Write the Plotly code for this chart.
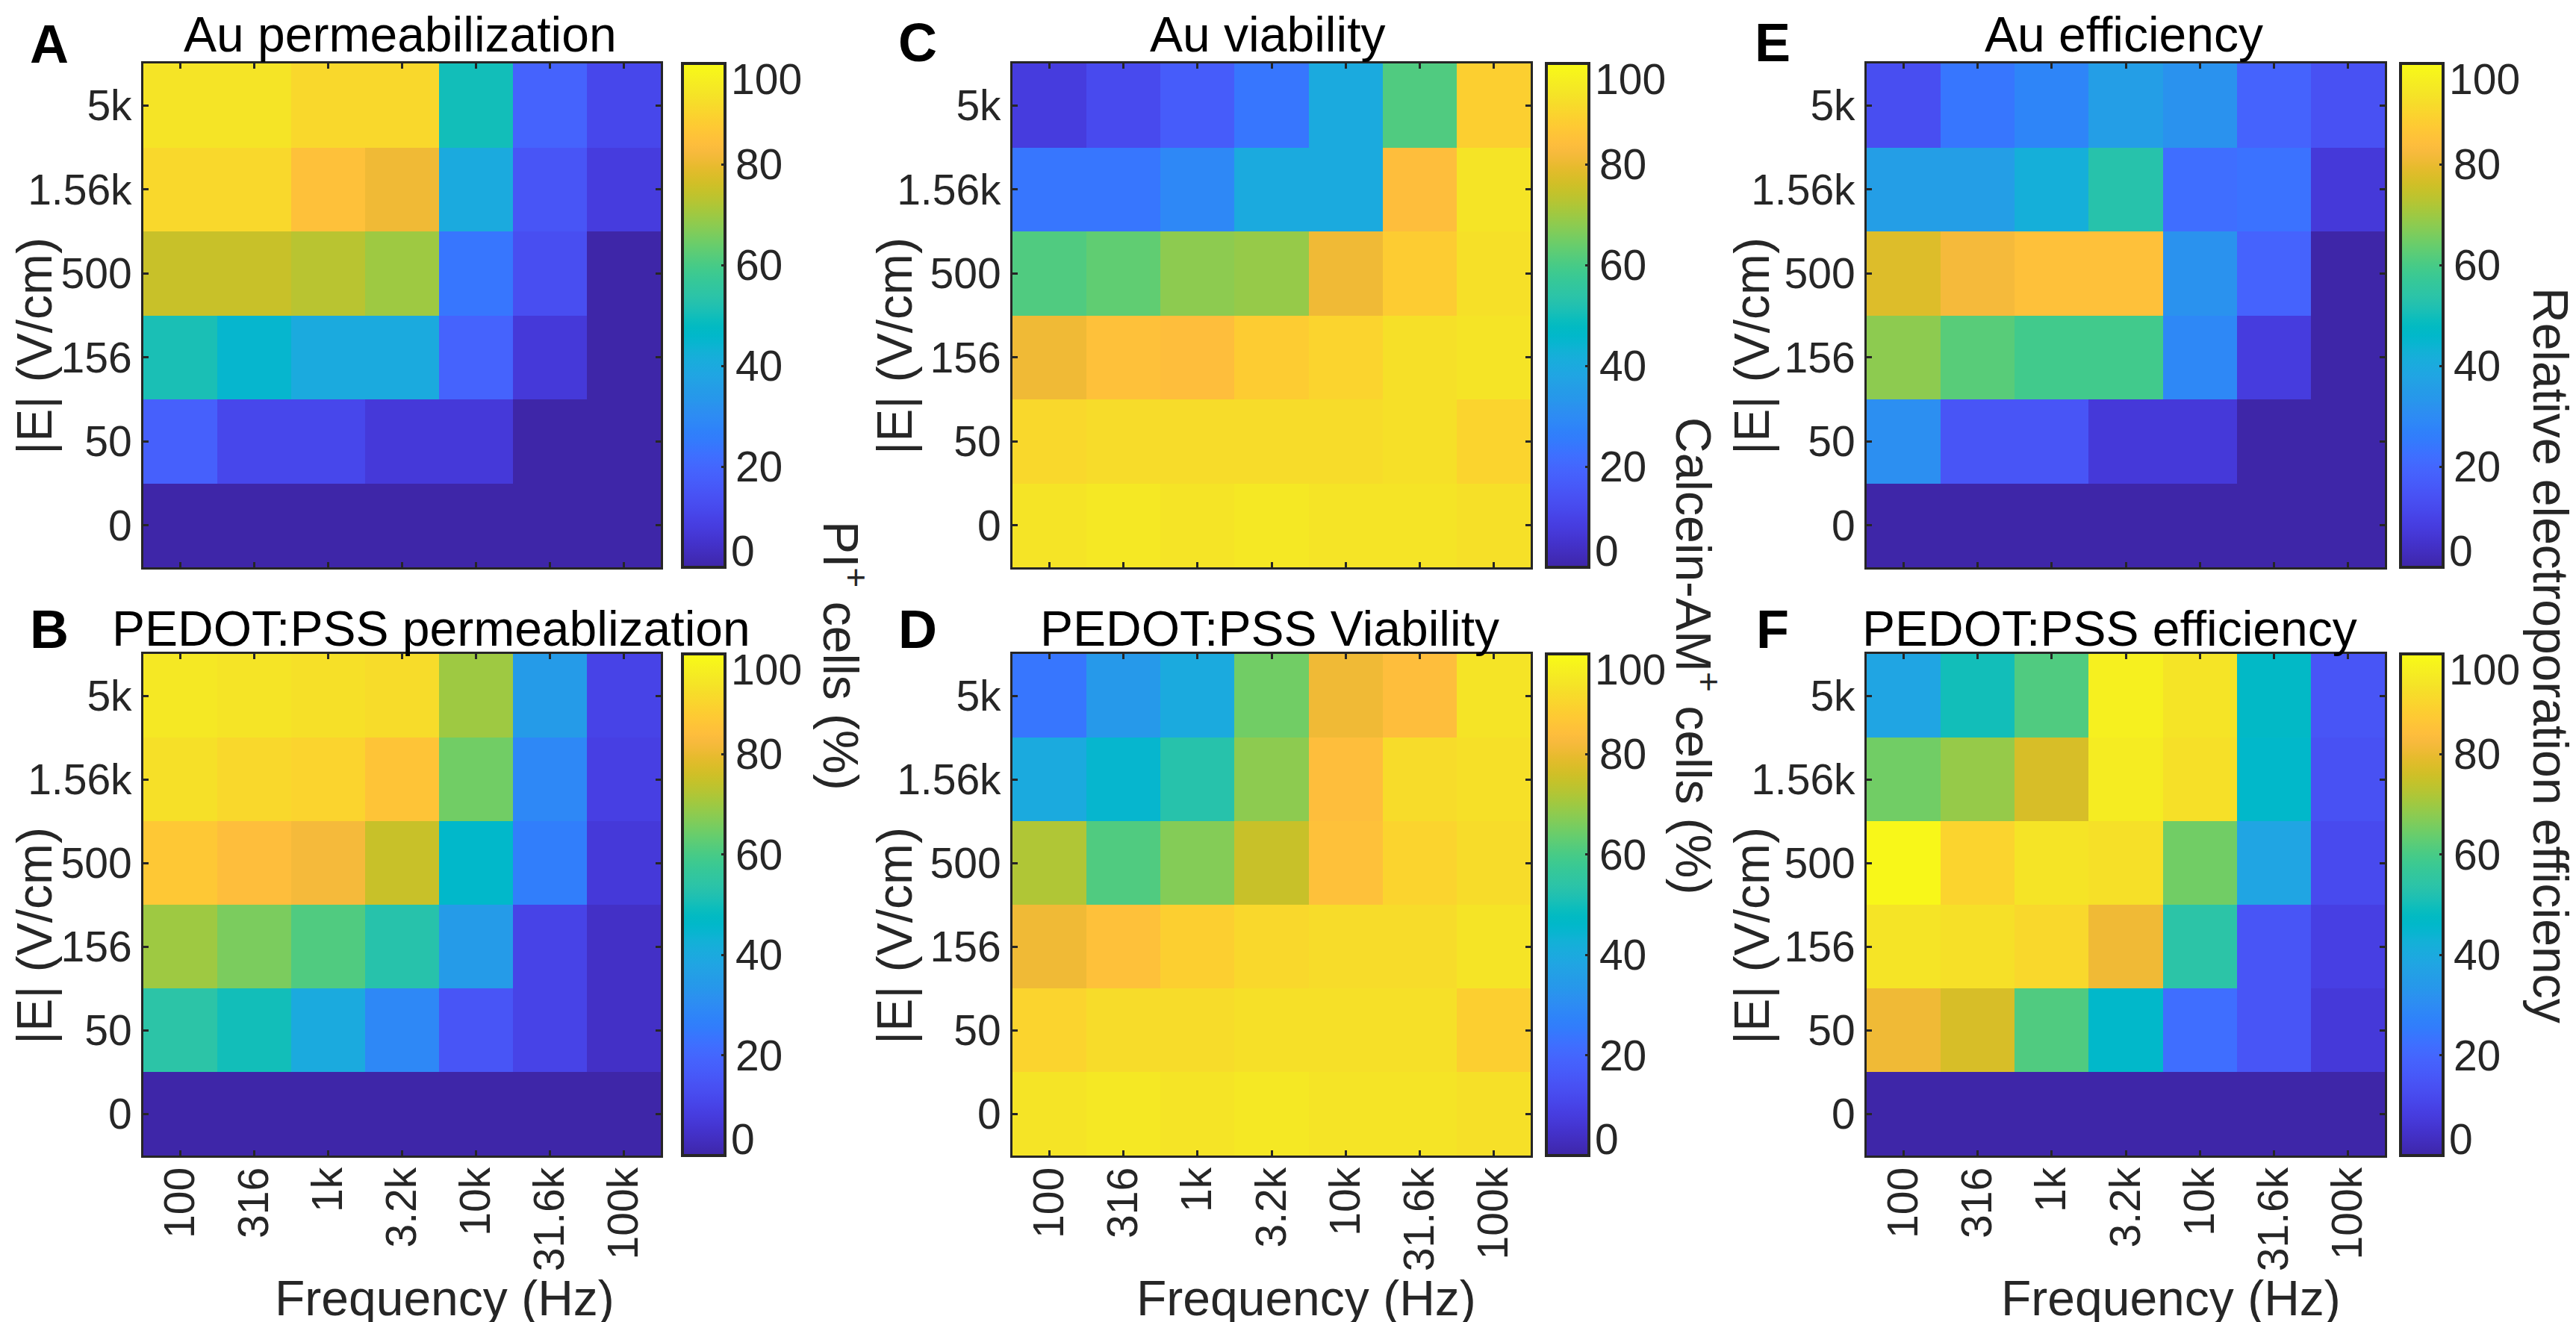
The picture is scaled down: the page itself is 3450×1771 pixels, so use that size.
import plotly.graph_objects as go

W, H = 3450, 1771

# ---------------- data ----------------
freq_labels = ["100", "316", "1k", "3.2k", "10k", "31.6k", "100k"]
field_labels = ["5k", "1.56k", "500", "156", "50", "0"]  # top -> bottom
cbar_ticks = [0, 20, 40, 60, 80, 100]

au_perm = [
    [94, 94, 91, 91, 50, 19, 11],
    [91, 91, 85, 81, 40, 15, 8],
    [75, 75, 73, 70, 24, 13, 0],
    [51, 45, 40, 40, 19, 7, 0],
    [18, 11, 11, 7, 7, 0, 0],
    [0, 0, 0, 0, 0, 0, 0],
]
pedot_perm = [
    [95, 94, 93, 92, 70, 35, 10],
    [93, 91, 90, 86, 65, 29, 9],
    [87, 84, 82, 75, 46, 26, 7],
    [70, 66, 61, 53, 35, 10, 4],
    [54, 50, 40, 29, 15, 10, 4],
    [0, 0, 0, 0, 0, 0, 0],
]
au_via = [
    [8, 12, 17, 24, 40, 61, 89],
    [24, 24, 29, 40, 40, 84, 94],
    [61, 63, 68, 69, 81, 88, 93],
    [81, 85, 84, 88, 90, 93, 94],
    [91, 92, 92, 92, 92, 93, 90],
    [94, 95, 94, 95, 94, 94, 93],
]
pedot_via = [
    [24, 34, 40, 65, 81, 84, 94],
    [40, 45, 53, 68, 84, 92, 93],
    [72, 61, 67, 75, 85, 90, 92],
    [81, 85, 89, 91, 92, 92, 94],
    [90, 92, 92, 93, 93, 93, 89],
    [94, 95, 94, 95, 94, 94, 93],
]
au_eff = [
    [13, 24, 28, 36, 32, 19, 14],
    [36, 36, 42, 53, 22, 23, 7],
    [78, 82, 85, 85, 32, 19, 0],
    [68, 62, 59, 59, 29, 8, 0],
    [31, 15, 15, 7, 7, 0, 0],
    [0, 0, 0, 0, 0, 0, 0],
]
pedot_eff = [
    [38, 50, 61, 97, 94, 47, 15],
    [65, 69, 77, 96, 93, 46, 14],
    [99, 90, 94, 93, 65, 38, 12],
    [94, 93, 91, 81, 54, 15, 9],
    [81, 77, 61, 46, 22, 15, 7],
    [0, 0, 0, 0, 0, 0, 0],
]

titles = ["Au permeabilization", "PEDOT:PSS permeablization", "Au viability",
          "PEDOT:PSS Viability", "Au efficiency", "PEDOT:PSS efficiency"]
letters = ["A", "B", "C", "D", "E", "F"]
cbar_titles = ["PI<sup>+</sup> cells (%)", "Calcein-AM<sup>+</sup> cells (%)",
               "Relative electroporation efficiency"]
ylab = "|E| (V/cm)"
xlab = "Frequency (Hz)"

# parula (MATLAB) colormap
parula = [
    (0.2422, 0.1504, 0.6603), (0.2504, 0.1650, 0.7076), (0.2578, 0.1818, 0.7511),
    (0.2647, 0.1978, 0.7952), (0.2706, 0.2147, 0.8364), (0.2751, 0.2342, 0.8710),
    (0.2783, 0.2559, 0.8991), (0.2803, 0.2782, 0.9221), (0.2813, 0.3006, 0.9414),
    (0.2810, 0.3228, 0.9579), (0.2795, 0.3447, 0.9717), (0.2760, 0.3667, 0.9829),
    (0.2699, 0.3892, 0.9906), (0.2602, 0.4123, 0.9952), (0.2440, 0.4358, 0.9988),
    (0.2206, 0.4603, 0.9973), (0.1963, 0.4847, 0.9892), (0.1834, 0.5074, 0.9798),
    (0.1786, 0.5289, 0.9682), (0.1764, 0.5499, 0.9520), (0.1687, 0.5703, 0.9359),
    (0.1540, 0.5902, 0.9218), (0.1460, 0.6091, 0.9079), (0.1380, 0.6276, 0.8973),
    (0.1248, 0.6459, 0.8883), (0.1113, 0.6635, 0.8763), (0.0952, 0.6798, 0.8598),
    (0.0689, 0.6948, 0.8394), (0.0297, 0.7082, 0.8163), (0.0036, 0.7203, 0.7917),
    (0.0067, 0.7312, 0.7660), (0.0433, 0.7411, 0.7394), (0.0964, 0.7500, 0.7120),
    (0.1408, 0.7584, 0.6842), (0.1717, 0.7670, 0.6554), (0.1938, 0.7758, 0.6251),
    (0.2161, 0.7843, 0.5923), (0.2470, 0.7918, 0.5567), (0.2906, 0.7973, 0.5188),
    (0.3406, 0.8008, 0.4789), (0.3909, 0.8029, 0.4354), (0.4456, 0.8024, 0.3909),
    (0.5044, 0.7993, 0.3480), (0.5616, 0.7942, 0.3045), (0.6174, 0.7876, 0.2612),
    (0.6720, 0.7793, 0.2227), (0.7242, 0.7698, 0.1910), (0.7738, 0.7598, 0.1646),
    (0.8203, 0.7498, 0.1535), (0.8634, 0.7406, 0.1596), (0.9035, 0.7330, 0.1774),
    (0.9393, 0.7288, 0.2100), (0.9728, 0.7298, 0.2394), (0.9956, 0.7434, 0.2371),
    (0.9970, 0.7659, 0.2199), (0.9952, 0.7893, 0.2028), (0.9892, 0.8136, 0.1885),
    (0.9786, 0.8386, 0.1766), (0.9676, 0.8639, 0.1643), (0.9610, 0.8890, 0.1537),
    (0.9597, 0.9135, 0.1423), (0.9628, 0.9373, 0.1265), (0.9691, 0.9606, 0.1064),
    (0.9769, 0.9839, 0.0805),
]
n = len(parula)
colorscale = [[i / (n - 1), "rgb(%d,%d,%d)" % tuple(round(c * 255) for c in rgb)]
              for i, rgb in enumerate(parula)]

ZMIN, ZMAX = cbar_ticks[0], cbar_ticks[-1]

# ---------------- layout geometry (pixels) ----------------
FONT = "Liberation Sans, Arial, Helvetica, sans-serif"
DARK = "#262626"
col_x = [(184, 877), (1348, 2042), (2492, 3186)]
cbar_x = [906, 2063, 3207]        # left edge of colour bar
cbar_thick = 57
row_y = [(77, 752), (868, 1540)]

datasets = [au_perm, pedot_perm, au_via, pedot_via, au_eff, pedot_eff]

fig = go.Figure()
layout = dict(width=W, height=H, margin=dict(l=0, r=0, t=0, b=0),
              paper_bgcolor="white", plot_bgcolor="white",
              font=dict(family=FONT, color=DARK), showlegend=False,
              template="none")

ann = []


def add_ann(text, xp, yp, size, bold=False, angle=0, color="black", xanchor="center"):
    ann.append(dict(text=("<b>%s</b>" % text) if bold else text,
                    x=xp / W, y=1 - yp / H, xref="paper", yref="paper",
                    xanchor=xanchor, yanchor="middle", showarrow=False,
                    textangle=angle, font=dict(size=size, family=FONT, color=color)))


for k, z in enumerate(datasets):
    c, r = k // 2, k % 2
    idx = k + 1
    xa = "x" if idx == 1 else "x%d" % idx
    ya = "y" if idx == 1 else "y%d" % idx
    x0, x1 = col_x[c]
    y0, y1 = row_y[r]
    fig.add_trace(go.Heatmap(
        z=z, x=freq_labels, y=field_labels, xaxis=xa, yaxis=ya,
        colorscale=colorscale, zmin=ZMIN, zmax=ZMAX, xgap=0, ygap=0,
        colorbar=dict(x=cbar_x[c] / W, xanchor="left", xref="paper",
                      y=1 - (y0 + y1) / 2 / H, yanchor="middle", yref="paper",
                      len=(y1 - y0) / H, lenmode="fraction",
                      thickness=cbar_thick, thicknessmode="pixels",
                      outlinewidth=4, outlinecolor=DARK, xpad=0, ypad=0,
                      tickvals=cbar_ticks[1:-1],
                      ticks="inside", ticklen=7,
                      tickwidth=3, tickcolor=DARK,
                      tickfont=dict(size=57, family=FONT, color=DARK)),
    ))
    # inset end labels of the colour bar ("100" at top, "0" at bottom)
    lab_x = cbar_x[c] + cbar_thick + 6
    add_ann(str(cbar_ticks[-1]), lab_x, y0 + 21, 57, color=DARK, xanchor="left")
    add_ann(str(cbar_ticks[0]), lab_x, y1 - 22, 57, color=DARK, xanchor="left")

    axkw = dict(showline=True, linewidth=3, linecolor=DARK, mirror="ticks",
                ticks="inside", ticklen=7, tickwidth=3, tickcolor=DARK,
                showgrid=False, zeroline=False, automargin=False,
                tickfont=dict(size=57, family=FONT, color=DARK))
    layout["xaxis" if idx == 1 else "xaxis%d" % idx] = dict(
        domain=[x0 / W, x1 / W], anchor=ya, type="category",
        tickangle=-90, showticklabels=(r == 1), ticklabelstandoff=-10, **axkw)
    layout["yaxis" if idx == 1 else "yaxis%d" % idx] = dict(
        domain=[1 - y1 / H, 1 - y0 / H], anchor=xa, type="category",
        autorange="reversed", ticklabelstandoff=1, **axkw)

# panel letters
letter_pos = [(58, 51), (58, 835), (1221, 49), (1221, 835), (2366, 49), (2366, 835)]
for t, (xp, yp) in zip(letters, letter_pos):
    add_ann(t, xp, yp, 72, bold=True)

# panel titles
title_pos = [(528, 38), (569, 834), (1689, 38), (1692, 834), (2836, 38), (2817, 834)]
for t, (xp, yp) in zip(titles, title_pos):
    add_ann(t, xp, yp, 66)

# y labels
for xp in [38, 1190, 2338]:
    add_ann(ylab, xp, 456, 66, angle=-90, color=DARK)
    add_ann(ylab, xp, 1246, 66, angle=-90, color=DARK)

# x labels
for xp in [587, 1742, 2899]:
    add_ann(xlab, xp, 1731, 66, color=DARK)

# colorbar labels
for t, xp in zip(cbar_titles, [1123, 2265, 3408]):
    add_ann(t, xp, 870, 66, angle=90, color=DARK)

layout["annotations"] = ann
fig.update_layout(**layout)
fig.write_html("out.html")
